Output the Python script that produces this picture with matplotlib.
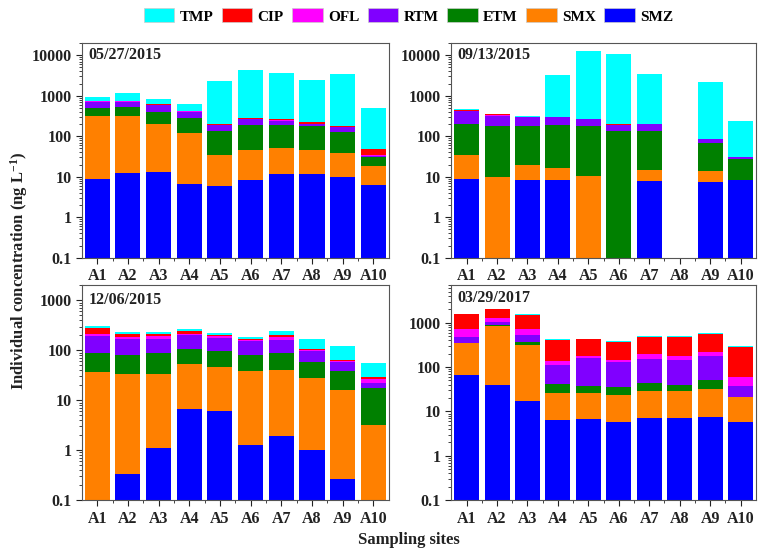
import numpy as np
import matplotlib
matplotlib.use("Agg")
import matplotlib.pyplot as plt
from matplotlib.ticker import LogLocator, FixedLocator, NullFormatter
from matplotlib.patches import Patch

plt.rcParams['font.family'] = ['Liberation Serif', 'DejaVu Serif']
plt.rcParams['font.weight'] = 'bold'
plt.rcParams['mathtext.fontset'] = 'custom'
plt.rcParams['mathtext.rm'] = 'Liberation Serif:bold'
plt.rcParams['mathtext.bf'] = 'Liberation Serif:bold'
plt.rcParams['mathtext.default'] = 'bf'

sites = ["A1", "A2", "A3", "A4", "A5", "A6", "A7", "A8", "A9", "A10"]
compounds = ["SMZ", "SMX", "ETM", "RTM", "OFL", "CIP", "TMP"]
colors = {"SMZ": "#0000FF", "SMX": "#FF8000", "ETM": "#008000", "RTM": "#8000FF",
          "OFL": "#FF00FF", "CIP": "#FF0000", "TMP": "#00FFFF"}

# individual concentrations (ng/L)
d1_smz = [8.9, 12.5, 13.3, 6.6, 6.0, 8.3, 11.4, 11.4, 9.8, 6.2]
d1_smx = [301, 304, 188, 114, 28.8, 36.7, 41.2, 33.6, 28.2, 12.1]
d1_etm = [188, 210, 195, 162, 98, 145, 137, 135, 90, 12.2]
d1_rtm = [201, 185, 182, 121, 53, 77, 53, 21, 38, 1.7]
d1_ofl = [30, 34, 20, 12, 5, 5, 8, 3, 3, 1.5]
d1_cip = [5, 5, 14, 12, 14, 16, 11, 17, 6, 14.2]
d1_tmp = [210, 414, 201, 196, 2133, 3988, 3344, 2162, 3239, 450]

d2_smz = [8.9, 0, 8.1, 8.1, 0, 0, 7.8, 0, 7.5, 8.1]
d2_smx = [25.1, 9.8, 11.2, 8.8, 10.2, 0, 6.8, 0, 6.5, 0]
d2_etm = [172, 167, 162, 174, 167, 133, 118, 0, 54.7, 20.1]
d2_rtm = [218, 148, 126, 116, 87, 54, 66, 0, 19.3, 2.3]
d2_ofl = [5, 5, 0, 0, 0, 0, 0, 0, 0, 0]
d2_cip = [11, 34, 0, 0, 0, 19, 0, 0, 0, 0]
d2_tmp = [26, 0, 18, 2966, 12736, 10594, 3261, 0, 2070, 209]

d3_smz = [0, 0.33, 1.12, 6.6, 6.2, 1.29, 1.95, 0.99, 0.27, 0]
d3_smx = [36.5, 32.9, 33.2, 46, 40.5, 38.1, 38.6, 27.5, 16.1, 3.15]
d3_etm = [54, 48, 53.4, 56, 49, 43, 48, 31, 22.4, 14.7]
d3_rtm = [99, 87, 80, 96, 82, 68, 74, 38, 20, 4.4]
d3_ofl = [24, 16, 22, 9, 18, 13, 21, 3, 2.7, 4.5]
d3_cip = [64, 30, 24, 32, 9, 5, 17, 5, 2.9, 2.2]
d3_tmp = [28, 18, 18, 16, 16, 13, 45, 67, 55, 26]

d4_smz = [64.9, 40.6, 17.1, 6.4, 6.6, 5.7, 7.2, 7.3, 7.7, 5.7]
d4_smx = [283, 815, 291, 19.1, 20.2, 17.6, 21.1, 21, 24.2, 15.3]
d4_etm = [0, 30, 71, 15.9, 11.7, 11.5, 16.7, 12.3, 19.9, 0.5]
d4_rtm = [135, 149, 139, 67.6, 121.5, 95, 109, 103.4, 131, 17]
d4_ofl = [236, 262, 215, 30, 23, 14, 46, 39, 39, 23]
d4_cip = [878, 808, 808, 267, 245, 229, 267, 300, 333, 220]
d4_tmp = [5, 0, 79, 29, 15, 13, 40, 30, 25, 20]

panels = [
    ("05/27/2015", [d1_smz, d1_smx, d1_etm, d1_rtm, d1_ofl, d1_cip, d1_tmp], 2e4,
     [0.1, 1, 10, 100, 1000, 10000], 0.945, 0.022),
    ("09/13/2015", [d2_smz, d2_smx, d2_etm, d2_rtm, d2_ofl, d2_cip, d2_tmp], 2e4,
     [0.1, 1, 10, 100, 1000, 10000], 0.945, 0.02),
    ("12/06/2015", [d3_smz, d3_smx, d3_etm, d3_rtm, d3_ofl, d3_cip, d3_tmp], 2e3,
     [0.1, 1, 10, 100, 1000], 0.93, 0.022),
    ("03/29/2017", [d4_smz, d4_smx, d4_etm, d4_rtm, d4_ofl, d4_cip, d4_tmp], 7e3,
     [0.1, 1, 10, 100, 1000], 0.94, 0.02),
]

positions = [
    [0.107, 0.533, 0.401, 0.389],
    [0.590, 0.533, 0.398, 0.389],
    [0.107, 0.094, 0.401, 0.389],
    [0.590, 0.094, 0.398, 0.389],
]

fig = plt.figure(figsize=(7.65, 5.52), dpi=100)
x = np.arange(1, 11)

for (title, series, ytop, yticks, ty, tx), pos in zip(panels, positions):
    ax = fig.add_axes(pos)
    ax.set_yscale("log")
    bottom = np.zeros(10)
    for name, vals in zip(compounds, series):
        vals = np.array(vals, dtype=float)
        ax.bar(x, vals, 0.82, bottom=bottom, color=colors[name], linewidth=0)
        bottom = bottom + vals
    ax.set_xlim(0.5, 10.5)
    ax.set_ylim(0.1, ytop)
    ax.set_yticks(yticks)
    ax.set_yticklabels([("%g" % t) for t in yticks])
    ax.yaxis.set_minor_locator(LogLocator(base=10, subs=np.arange(2, 10)))
    ax.yaxis.set_minor_formatter(NullFormatter())
    ax.set_xticks(x)
    ax.set_xticklabels(sites)
    ax.xaxis.set_minor_locator(FixedLocator(np.arange(1.5, 10.5, 1)))
    ax.tick_params(axis="both", which="major", direction="out", length=4, width=0.8,
                   labelsize=11.5, colors="#222222")
    ax.tick_params(axis="both", which="minor", direction="out", length=2, width=0.6,
                   colors="#222222")
    for s in ax.spines.values():
        s.set_color("#555555")
        s.set_linewidth(0.8)
    ax.text(tx, ty, title, transform=ax.transAxes, fontsize=11.5,
            fontweight="bold", va="center", ha="left", color="#222222")

legend_order = ["TMP", "CIP", "OFL", "RTM", "ETM", "SMX", "SMZ"]
handles = [Patch(facecolor=colors[c], edgecolor="#cccccc", linewidth=0.5)
           for c in legend_order]
fig.legend(handles, legend_order,
           loc="center", bbox_to_anchor=(0.534, 0.971), ncol=7, frameon=False,
           fontsize=11, handlelength=2.0, handleheight=1.0, columnspacing=0.55,
           handletextpad=0.35)

fig.text(0.025, 0.51, "Individual concentration (ng L$^{-1}$)", rotation=90,
         va="center", ha="center", fontsize=12, fontweight="bold", color="#222222")
fig.text(0.535, 0.022, "Sampling sites", va="center", ha="center", fontsize=12,
         fontweight="bold", color="#222222")

fig.savefig("out.png", dpi=100)
